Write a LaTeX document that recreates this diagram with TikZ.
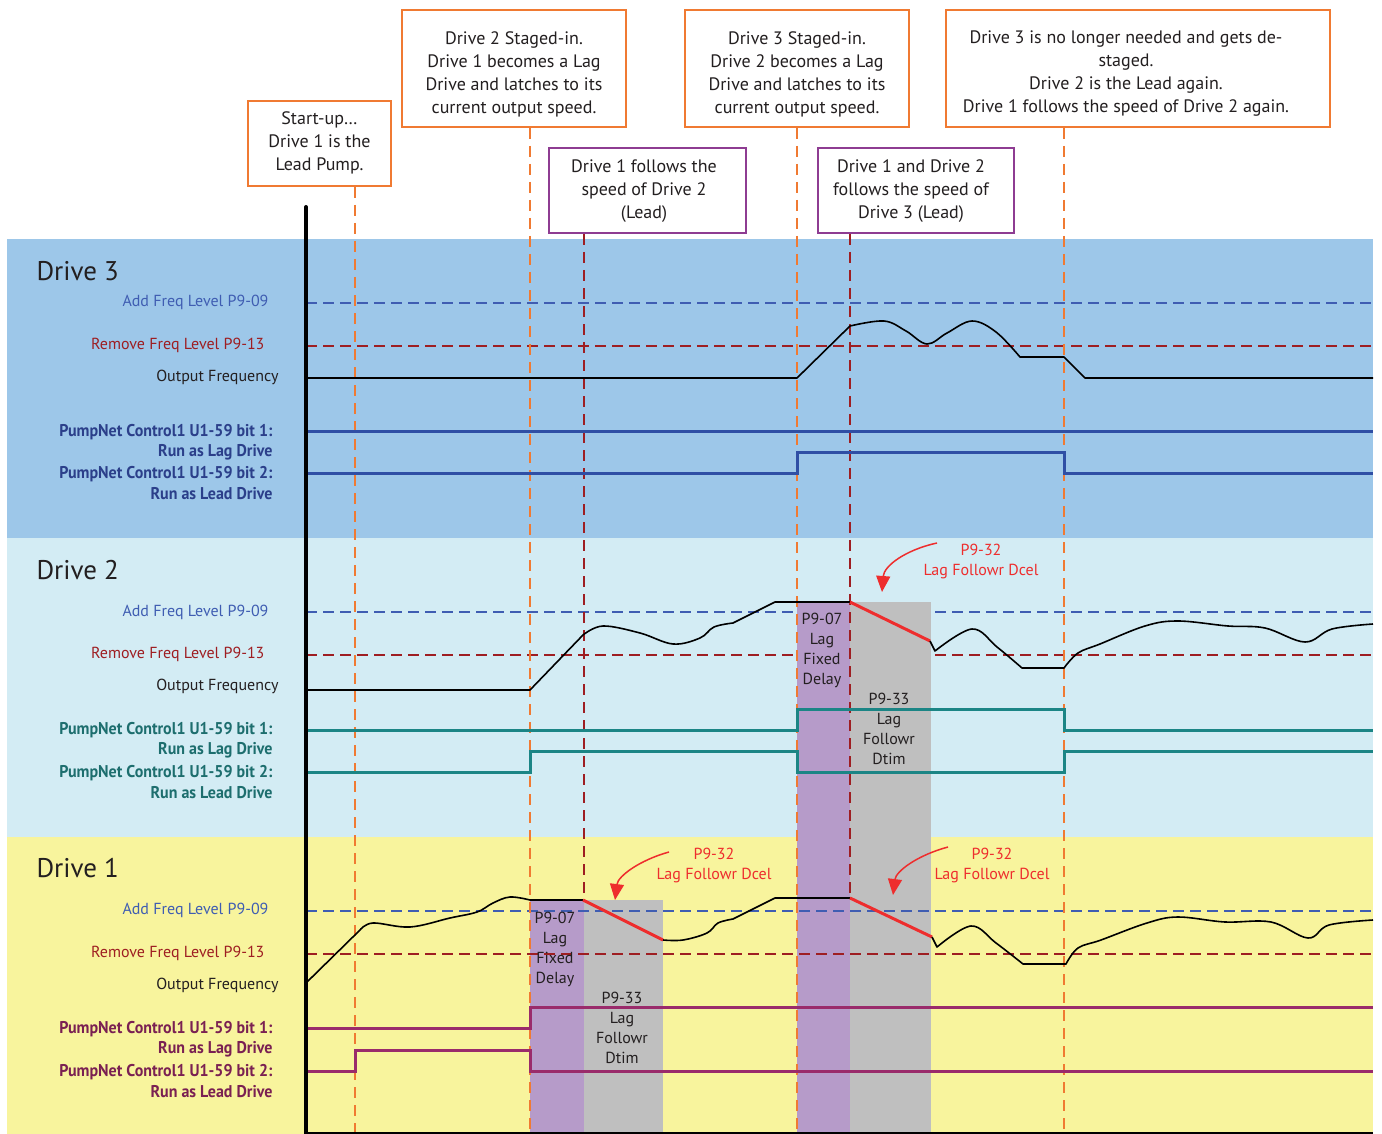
\documentclass[tikz,border=0pt]{standalone}
\usepackage{fontspec}
\setmainfont{PT Sans}
\newfontfamily\pnfont{PT Sans}[FakeStretch=0.94]
\usetikzlibrary{arrows.meta}
\definecolor{bgthree}{HTML}{9DC7E9}
\definecolor{bgtwo}{HTML}{D3ECF4}
\definecolor{bgone}{HTML}{F8F49D}
\definecolor{addblue}{HTML}{3F5DB2}
\definecolor{remred}{HTML}{9E1E22}
\definecolor{orangeA}{HTML}{F07A32}
\definecolor{purpleA}{HTML}{8E3C92}
\definecolor{sigblue}{HTML}{2F4FA5}
\definecolor{lblblue}{HTML}{2B3F8A}
\definecolor{sigteal}{HTML}{1B8585}
\definecolor{lblteal}{HTML}{1D6E6E}
\definecolor{sigmaroon}{HTML}{9A2B6B}
\definecolor{lblmaroon}{HTML}{7A2052}
\definecolor{redA}{HTML}{EE2D2D}
\definecolor{purplefill}{HTML}{B69BC9}
\definecolor{grayfill}{HTML}{BFBFBF}
\definecolor{txtdark}{HTML}{231F20}
\begin{document}
\begin{tikzpicture}[x=1pt,y=-1pt,
  obox/.style={draw=orangeA, line width=2pt, fill=white, inner sep=0pt},
  pbox/.style={obox, draw=purpleA},
  btxt/.style={align=center, text=txtdark, font=\fontsize{18}{23}\selectfont, inner sep=0pt},
  adddash/.style={draw=addblue, line width=1.5pt, dash pattern=on 11pt off 6pt},
  remdash/.style={draw=remred, line width=1.5pt, dash pattern=on 11pt off 6pt},
  odash/.style={draw=orangeA, line width=1.6pt, dash pattern=on 11pt off 7pt},
  rdash/.style={draw=remred, line width=1.8pt, dash pattern=on 11pt off 7pt},
  outcurve/.style={draw=black, line width=1.6pt, line join=round},
  redseg/.style={draw=redA, line width=3pt},
  sigthree/.style={draw=sigblue, line width=3pt, line join=miter},
  sigtwo/.style={draw=sigteal, line width=3pt, line join=miter},
  sigone/.style={draw=sigmaroon, line width=3pt, line join=miter},
  drivetitle/.style={anchor=west, text=txtdark, font=\fontsize{27}{27}\selectfont},
  lbladd/.style={anchor=east, text=addblue, font=\fontsize{16}{16}\selectfont},
  lblrem/.style={anchor=east, text=remred, font=\fontsize{16}{16}\selectfont},
  lblout/.style={anchor=east, text=txtdark, font=\fontsize{16}{16}\selectfont},
  pn/.style={anchor=east, font=\pnfont\bfseries\fontsize{17}{17}\selectfont},
  rtxt/.style={align=center, text=txtdark, font=\fontsize{16}{20}\selectfont, inner sep=0pt},
  ann/.style={align=center, text=redA, font=\fontsize{16}{20}\selectfont, inner sep=0pt},
  annarrow/.style={draw=redA, line width=1.5pt, -{Triangle[width=14pt,length=16pt]}}
]
\useasboundingbox (0,0) rectangle (1382,1134);
\fill[white] (0,0) rectangle (1382,1134);

% bands
\fill[bgthree] (7,239) rectangle (1373,538);
\fill[bgtwo] (7,538) rectangle (1373,837);
\fill[bgone] (7,837) rectangle (1373,1134);

% drive 3 and drive 2 levels
\draw[adddash] (306,303) -- (1373,303);
\draw[remdash] (306,346) -- (1373,346);
\draw[adddash] (306,612) -- (1373,612);
\draw[remdash] (306,655) -- (1373,655);

% delay areas
\fill[purplefill] (797,602) rectangle (850,1134);
\fill[grayfill] (850,602) rectangle (931,1134);
\fill[purplefill] (530,900) rectangle (584,1134);
\fill[grayfill] (584,900) rectangle (663,1134);

% drive 1 levels
\draw[adddash] (306,911) -- (1373,911);
\draw[remdash] (306,954) -- (1373,954);

% event boxes
\node[obox, minimum width=143pt, minimum height=85pt] (b1) at (319.5,143.5) {};
\node[btxt] (b1t) at (319.5,143) {Start-up\ldots\\Drive 1 is the\\Lead Pump.};
\node[obox, minimum width=224pt, minimum height=117pt] (b2) at (514,68.5) {};
\node[btxt] (b2t) at (514,74) {Drive 2 Staged-in.\\Drive 1 becomes a Lag\\Drive and latches to its\\current output speed.};
\node[obox, minimum width=224pt, minimum height=117pt] (b3) at (797,68.5) {};
\node[btxt] (b3t) at (797,74) {Drive 3 Staged-in.\\Drive 2 becomes a Lag\\Drive and latches to its\\current output speed.};
\node[obox, minimum width=384pt, minimum height=117pt] (b4) at (1138,68.5) {};
\node[btxt] (b4t) at (1126,74) {Drive 3 is no longer needed and gets de-\\staged.\\Drive 2 is the Lead again.\\Drive 1 follows the speed of Drive 2 again.};
\node[pbox, minimum width=197pt, minimum height=85pt] (b5) at (647.5,190.5) {};
\node[btxt] (b5t) at (644,191) {Drive 1 follows the\\speed of Drive 2\\(Lead)};
\node[pbox, minimum width=196pt, minimum height=85pt] (b6) at (916,190.5) {};
\node[btxt] (b6t) at (911,191) {Drive 1 and Drive 2\\follows the speed of\\Drive 3 (Lead)};

% vertical markers
\coordinate (t1) at (355,187); \coordinate (e1) at (355,1134);
\coordinate (t2) at (530,128); \coordinate (e2) at (530,1134);
\coordinate (t3) at (797,128); \coordinate (e3) at (797,1134);
\coordinate (t4) at (1064,128); \coordinate (e4) at (1064,1134);
\coordinate (t5) at (584,234); \coordinate (e5) at (584,900);
\coordinate (t6) at (850,234); \coordinate (e6) at (850,898);
\draw[odash] (t1) -- (e1);
\draw[odash] (t2) -- (e2);
\draw[odash] (t3) -- (e3);
\draw[odash] (t4) -- (e4);
\draw[rdash] (t5) -- (e5);
\draw[rdash] (t6) -- (e6);

% drive 3 output frequency
\draw[outcurve] (306,378) -- (797,378) -- (850,326)
  -- plot[smooth, tension=0.6] coordinates {(850,326) (884,321) (906,331) (927,344) (947,333) (972,321) (996,332) (1020,357)}
  -- (1064,357) -- (1085,378) -- (1373,378);

% drive 2 output frequency
\draw[outcurve] (306,690) -- (530,690) -- (583,635)
  -- plot[smooth, tension=0.6] coordinates {(583,635) (603,626) (640,633) (673,644) (700,638) (714,627) (733,623)}
  -- (775,602) -- (850,602);
\draw[redseg] (850,602) -- (930,641);
\draw[outcurve] (930,641) -- (935,651)
  -- plot[smooth, tension=0.6] coordinates {(935,651) (972,629) (997,647) (1022,668)}
  -- (1064,668)
  -- plot[smooth, tension=0.6] coordinates {(1064,668) (1078,653) (1100,644) (1145,626) (1178,621) (1228,626) (1265,628) (1305,642) (1332,629) (1373,624)};

% drive 1 output frequency
\draw[outcurve] (306,983) -- (360,930)
  -- plot[smooth, tension=0.6] coordinates {(360,930) (373,923) (410,927) (450,918) (477,912) (493,903) (510,897) (530,900)}
  -- (583,900);
\draw[redseg] (583,900) -- (663,940);
\draw[outcurve] (663,940)
  -- plot[smooth, tension=0.6] coordinates {(663,940) (683,940) (707,933) (718,923) (733,919)}
  -- (775,898) -- (850,898);
\draw[redseg] (850,898) -- (932,937);
\draw[outcurve] (932,937) -- (937,947)
  -- plot[smooth, tension=0.6] coordinates {(937,947) (971,926) (996,943) (1023,964)}
  -- (1066,964)
  -- plot[smooth, tension=0.6] coordinates {(1066,964) (1078,948) (1101,940) (1147,923) (1178,917) (1225,922) (1271,922) (1308,938) (1329,925) (1373,920)};

% control signals
\draw[sigthree] (306,431) -- (1373,431);
\draw[sigthree] (306,473) -- (797,473) -- (797,452) -- (1064,452) -- (1064,473) -- (1373,473);
\draw[sigtwo] (306,730) -- (797,730) -- (797,709) -- (1064,709) -- (1064,730) -- (1373,730);
\draw[sigtwo] (306,772) -- (530,772) -- (530,751) -- (797,751) -- (797,772) -- (1064,772) -- (1064,751) -- (1373,751);
\draw[sigone] (306,1028) -- (530,1028) -- (530,1007) -- (1373,1007);
\draw[sigone] (306,1071) -- (355,1071) -- (355,1050) -- (530,1050) -- (530,1071) -- (1373,1071);

% delay texts
\node[rtxt] (d2a) at (822,650) {P9-07\\Lag\\Fixed\\Delay};
\node[rtxt] (d2b) at (889,729) {P9-33\\Lag\\Followr\\Dtim};
\node[rtxt] (d1a) at (555,949) {P9-07\\Lag\\Fixed\\Delay};
\node[rtxt] (d1b) at (622,1028) {P9-33\\Lag\\Followr\\Dtim};

% left labels drive 3
\node[drivetitle] (n3) at (33,271) {Drive 3};
\node[lbladd] (a3) at (272,302) {Add Freq Level P9-09};
\node[lblrem] (r3) at (268,345) {Remove Freq Level P9-13};
\node[lblout] (o3) at (282,377) {Output Frequency};
\node[pn, text=lblblue] (p3a) at (276,432) {PumpNet Control1 U1-59 bit 1:};
\node[pn, text=lblblue] (p3b) at (276,452) {Run as Lag Drive};
\node[pn, text=lblblue] (p3c) at (276,474) {PumpNet Control1 U1-59 bit 2:};
\node[pn, text=lblblue] (p3d) at (276,494) {Run as Lead Drive};
% drive 2
\node[drivetitle] (n2) at (33,570) {Drive 2};
\node[lbladd] (a2) at (272,612) {Add Freq Level P9-09};
\node[lblrem] (r2) at (268,654) {Remove Freq Level P9-13};
\node[lblout] (o2) at (282,686) {Output Frequency};
\node[pn, text=lblteal] (p2a) at (276,730) {PumpNet Control1 U1-59 bit 1:};
\node[pn, text=lblteal] (p2b) at (276,750) {Run as Lag Drive};
\node[pn, text=lblteal] (p2c) at (276,773) {PumpNet Control1 U1-59 bit 2:};
\node[pn, text=lblteal] (p2d) at (276,793) {Run as Lead Drive};
% drive 1
\node[drivetitle] (n1) at (33,868) {Drive 1};
\node[lbladd] (a1) at (272,910) {Add Freq Level P9-09};
\node[lblrem] (r1) at (268,953) {Remove Freq Level P9-13};
\node[lblout] (o1) at (282,985) {Output Frequency};
\node[pn, text=lblmaroon] (p1a) at (276,1029) {PumpNet Control1 U1-59 bit 1:};
\node[pn, text=lblmaroon] (p1b) at (276,1049) {Run as Lag Drive};
\node[pn, text=lblmaroon] (p1c) at (276,1072) {PumpNet Control1 U1-59 bit 2:};
\node[pn, text=lblmaroon] (p1d) at (276,1092) {Run as Lead Drive};

% annotations
\node[ann] (c1) at (981,561) {P9-32\\Lag Followr Dcel};
\coordinate (c1s) at (937,543); \coordinate (c1e) at (882,592);
\draw[annarrow] (c1s) .. controls (905,550) and (884,566) .. (c1e);
\node[ann] (c2) at (714,865) {P9-32\\Lag Followr Dcel};
\coordinate (c2s) at (669,852); \coordinate (c2e) at (615,900);
\draw[annarrow] (c2s) .. controls (640,860) and (618,876) .. (c2e);
\node[ann] (c3) at (992,865) {P9-32\\Lag Followr Dcel};
\coordinate (c3s) at (948,847); \coordinate (c3e) at (893,895);
\draw[annarrow] (c3s) .. controls (918,855) and (896,871) .. (c3e);

% axes
\coordinate (ax0) at (306,207); \coordinate (ax1) at (306,1134);
\draw[black, line width=4pt, line cap=round] (ax0) -- (ax1);
\coordinate (bx0) at (306,1133); \coordinate (bx1) at (1373,1133);
\draw[black, line width=1.5pt] (bx0) -- (bx1);
\end{tikzpicture}
\end{document}
